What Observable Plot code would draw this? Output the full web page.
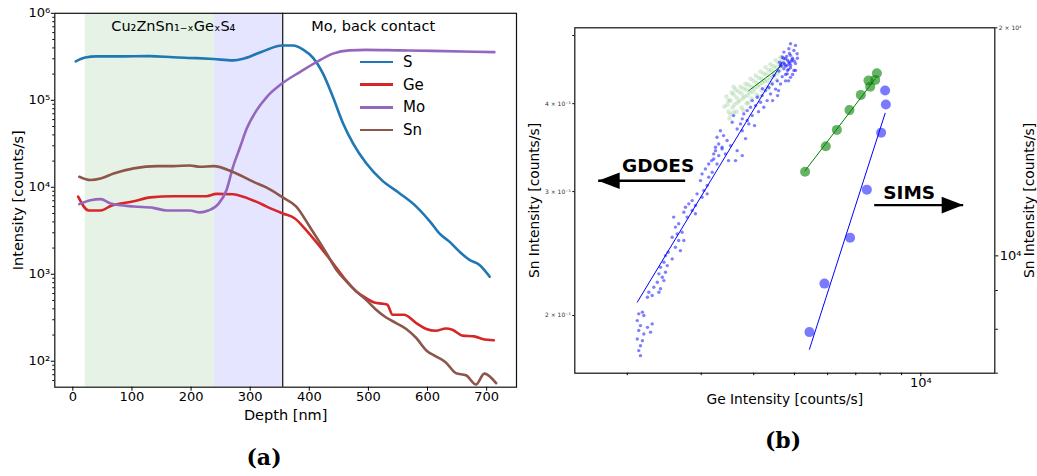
<!DOCTYPE html>
<html>
<head>
<meta charset="utf-8">
<script src="https://cdn.jsdelivr.net/npm/d3@7"></script>
<script src="https://cdn.jsdelivr.net/npm/@observablehq/plot@0.6"></script>
<style>
  html, body { margin: 0; background: #fff; }
  #figure { position: relative; width: 1037px; height: 476px; overflow: hidden; font-family: "DejaVu Sans", sans-serif; }
  .layer { position: absolute; top: 0; }
  .layer svg { display: block; }
  .caption { position: absolute; font-family: "DejaVu Serif", serif; font-weight: bold; font-size: 22px; line-height: 1; transform: translate(-50%, -50%); white-space: nowrap; }
  .legend { position: absolute; left: 360px; top: 50.6px; font-size: 15px; color: #000; }
  .legend .row { display: flex; align-items: center; height: 22.7px; }
  .legend .swatch { width: 33px; height: 2.6px; margin-right: 10px; }
</style>
</head>
<body>
<div id="figure">
  <div id="panelA" class="layer" style="left:0;width:520px"></div>
  <div id="legendA" class="legend"></div>
  <div class="caption" style="left:264px;top:457px">(a)</div>
  <div id="panelB1" class="layer" style="left:520px;width:517px"></div>
  <div id="panelB2" class="layer" style="left:520px;width:517px"></div>
  <div class="caption" style="left:783px;top:440px">(b)</div>
</div>
<script>
// ---------- (a) depth profiles ----------
const elements = ["S", "Ge", "Mo", "Sn"];
const elementColors = ["#1f77b4", "#d62728", "#9467bd", "#8c564b"];

const depthS = [5, 21, 40, 80, 130, 170, 210, 238, 271, 288, 310, 328, 353, 373, 390, 406, 423, 440, 457, 474, 496, 523, 552, 581, 606, 620, 637, 654, 671, 688, 705];
const intS = [2.8e5, 3.1e5, 3.2e5, 3.2e5, 3.22e5, 3.12e5, 3.05e5, 2.98e5, 2.88e5, 3.0e5, 3.4e5, 3.8e5, 4.27e5, 4.27e5, 3.8e5, 3.1e5, 2.04e5, 1.09e5, 5.45e4, 3.2e4, 1.9e4, 1.2e4, 8.6e3, 6.0e3, 3.9e3, 2.95e3, 2.37e3, 1.82e3, 1.46e3, 1.28e3, 940];

const depthGe = [9, 27, 47, 64, 103, 131, 170, 226, 243, 271, 288, 311, 328, 355, 375, 395, 418, 440, 457, 480, 496, 510, 525, 532, 541, 560, 581, 598, 614, 631, 642, 659, 679, 693, 712];
const intGe = [7.8e3, 5.4e3, 5.4e3, 6.1e3, 6.9e3, 7.65e3, 7.9e3, 7.9e3, 8.4e3, 8.3e3, 7.8e3, 6.8e3, 6.0e3, 5.0e3, 4.4e3, 3.2e3, 2.08e3, 1.34e3, 942, 631, 532, 473, 457, 446, 342, 342, 275, 235, 224, 238, 230, 197, 193, 180, 174];

const depthMo = [11, 30, 47, 64, 103, 136, 159, 198, 215, 229, 246, 260, 271, 283, 294, 311, 328, 355, 384, 412, 440, 468, 496, 552, 608, 713];
const intMo = [6.4e3, 7.1e3, 7.3e3, 6.5e3, 6.0e3, 5.8e3, 5.4e3, 5.4e3, 5.15e3, 5.4e3, 6.4e3, 9.3e3, 1.72e4, 2.9e4, 4.7e4, 7.7e4, 1.09e5, 1.58e5, 2.11e5, 2.75e5, 3.44e5, 3.75e5, 3.8e5, 3.75e5, 3.7e5, 3.58e5];

const depthSn = [11, 30, 47, 69, 103, 143, 170, 198, 215, 238, 271, 305, 328, 355, 378, 401, 429, 446, 463, 480, 496, 513, 530, 547, 564, 581, 598, 614, 631, 648, 665, 682, 696, 716];
const intSn = [1.32e4, 1.21e4, 1.26e4, 1.44e4, 1.65e4, 1.75e4, 1.75e4, 1.78e4, 1.72e4, 1.75e4, 1.5e4, 1.16e4, 9.9e3, 7.65e3, 6.0e3, 3.5e3, 1.75e3, 1.12e3, 824, 631, 508, 391, 318, 275, 235, 185, 133, 114, 97, 73, 69, 54, 72, 56];

// absorber / back-contact regions
const layerFrom = [21, 240];
const layerTo = [240, 355];
const layerFill = ["green", "blue"];
const backContactDepth = 355;
const layerNames = ["Cu₂ZnSn₁₋ₓGeₓS₄", "Mo, back contact"];
const layerNameDepth = [170, 508];
const layerNameIntensity = [7.06e5, 7.06e5];

const depthTicks = [0, 100, 200, 300, 400, 500, 600, 700];
const intensityTicks = [1e2, 1e3, 1e4, 1e5, 1e6];

// ---------- (b) Sn vs Ge correlation ----------
const gdoesBlueGe = [0.2038,0.2072,0.2027,0.2061,0.1994,0.2083,0.2038,0.1983,0.2005,0.2049,
  0.2027,0.1994,0.2072,0.2016,0.1972,0.2038,0.1994,0.2061,0.1961,0.2016,
  0.1983,0.2038,0.2005,0.1951,0.1930,0.1972,0.1919,0.1898,0.1940,0.1877,
  0.1908,0.1856,0.1887,0.1826,0.1846,0.1796,0.1816,0.1786,0.1866,0.1767,
  0.1747,0.1796,0.1738,0.1767,0.1728,0.1776,0.1709,0.1689,0.1681,0.1738,
  0.1617,0.1634,0.1599,0.1653,0.1608,0.1591,0.1626,0.1672,0.1582,0.1644,
  0.1709,0.1738,0.1591,0.1608,0.1582,0.1556,0.1599,0.1539,0.1574,0.1522,
  0.1556,0.1514,0.1548,0.1531,0.1497,0.1548,0.1522,0.1473,0.1457,0.1489,
  0.1441,0.1473,0.1433,0.1489,0.1449,0.1386,0.1409,0.1394,0.1425,0.1402,
  0.1379,0.1433,0.1409,0.1394,0.1417,0.1361,0.1349,0.1379,0.1342,0.1357,
  0.1327,0.1349,0.1320,0.1335,0.1342,0.1313,0.1298,0.1327,0.1277,0.1291,
  0.1271,0.1320,0.1250,0.1235,0.1256,0.1229,0.1291,0.1242,0.1271,0.1235,
  0.1284,0.1256,0.1229,0.1250,0.1242,0.1235,0.1242,0.1626,
  0.2018,0.2031,0.2005,0.2045,0.1998,0.2025,0.2052,0.2012,0.2038,0.1992,
  0.2018,0.2065,0.1979,0.2031,0.2005,0.2072,0.1966,0.2085,0.2052,0.2025,
  0.1953,0.1921,0.1834,0.1858,0.1959,0.1810,0.1757,0.1700,0.1661,0.1571];
const gdoesBlueSn = [0.4867,0.484,0.4787,0.476,0.4735,0.471,0.4685,0.466,0.4635,0.462,
  0.4585,0.457,0.456,0.4535,0.4535,0.450,0.4485,0.446,0.445,0.441,
  0.437,0.436,0.431,0.431,0.4385,0.4265,0.4265,0.4217,0.4195,0.4175,
  0.413,0.4107,0.404,0.4085,0.4018,0.404,0.3975,0.3953,0.3953,0.391,
  0.3868,0.3847,0.3806,0.3785,0.3744,0.3744,0.3682,0.3847,0.3764,0.366,
  0.366,0.3603,0.3583,0.3545,0.3506,0.3468,0.345,0.3487,0.3394,0.3394,
  0.343,0.3375,0.343,0.3375,0.3338,0.3284,0.3284,0.3231,0.3196,0.3179,
  0.3145,0.311,0.306,0.301,0.2978,0.2978,0.2945,0.2913,0.2882,0.2866,
  0.285,0.282,0.2805,0.279,0.276,0.276,0.2701,0.2671,0.2626,0.2612,
  0.2584,0.2556,0.2556,0.2501,0.2473,0.246,0.2433,0.2407,0.2381,0.2355,
  0.2342,0.2304,0.2292,0.2267,0.2242,0.223,0.2194,0.2183,0.2158,0.2135,
  0.2123,0.2158,0.2022,0.2011,0.2,0.1967,0.1946,0.1935,0.1924,0.1904,
  0.1894,0.1883,0.1852,0.1842,0.1812,0.1783,0.1754,0.3468,
  0.461,0.4565,0.452,0.4595,0.455,0.4475,0.464,0.467,0.4535,0.464,
  0.446,0.4595,0.452,0.4715,0.440,0.446,0.458,0.464,0.440,0.431,
  0.4107,0.404,0.3897,0.4202,0.4175,0.3723,0.3568,0.332,0.332,0.332];

const gdoesGreenGe = [0.1650,0.1655,0.1661,0.1678,0.1672,0.1683,0.1672,0.1700,0.1706,0.1694,
  0.1706,0.1728,0.1734,0.1722,0.1734,0.1757,0.1763,0.1751,0.1763,0.1786,
  0.1792,0.1780,0.1792,0.1816,0.1822,0.1810,0.1822,0.1846,0.1852,0.1840,
  0.1852,0.1877,0.1883,0.1871,0.1883,0.1908,0.1914,0.1902,0.1914,0.1940,
  0.1946,0.1934,0.1946,0.1972,0.1979,0.1966,
  0.1661,0.1689,0.1689,0.1717,0.1711,0.1745,0.1740,0.1745,0.1774,0.1769,
  0.1804,0.1798,0.1834,0.1828,0.1865,0.1858,0.1896,0.1889,0.1927,0.1921,
  0.1959,0.1953,0.1985,0.1666,0.1639,0.1689,0.1774,0.1834,0.1896];
const gdoesGreenSn = [0.4094,0.3988,0.3897,0.4148,0.404,0.3949,0.3860,0.4188,0.4080,0.3988,
  0.3897,0.4227,0.4134,0.404,0.3949,0.4268,0.4188,0.4094,0.4001,0.434,
  0.4227,0.4148,0.4067,0.4385,0.4282,0.4202,0.4121,0.4445,0.434,0.4254,
  0.4175,0.4505,0.440,0.431,0.4227,0.455,0.446,0.4355,0.4282,0.461,
  0.4505,0.4415,0.4325,0.4655,0.4565,0.446,
  0.404,0.4121,0.3885,0.4161,0.4014,0.4202,0.4067,0.391,0.4254,0.4107,
  0.431,0.4161,0.4355,0.4227,0.4415,0.4282,0.446,0.431,0.452,0.437,
  0.4565,0.4415,0.461,0.381,0.3962,0.4227,0.4014,0.4094,0.4202];

const gdoesBlueFitGe = [0.1229, 0.1983];
const gdoesBlueFitSn = [0.2089, 0.4581];
const gdoesGreenFitGe = [0.1776, 0.1969];
const gdoesGreenFitSn = [0.4175, 0.4509];

const simsGreenGe = [5302, 5940, 6310, 6761, 7197, 7505, 7576, 7786, 7859];
const simsGreenSn = [12915, 13953, 14665, 15573, 16310, 17035, 16725, 17072, 17418];
const simsBlueGe = [8222, 8254, 8044, 7438, 6785, 5895, 5429];
const simsBlueSn = [16530, 15840, 14543, 12229, 10564, 9191, 7931];
const simsGreenFitGe = [5302, 7786];
const simsGreenFitSn = [12953, 17125];
const simsBlueFitGe = [5429, 8222];
const simsBlueFitSn = [7527, 15424];

// method labels with arrows pointing at their axis
const methodNames = ["GDOES", "SIMS"];
const methodNameGe = [2368, 9379];
const methodNameSn = [13152, 12114];
const arrowTailGe = [2747, 7743];
const arrowTipGe = [1705, 12612];
const arrowSn = [12567, 11668];

// ---------- helpers ----------
const SUP = {"-": "⁻", "0": "⁰", "1": "¹", "2": "²", "3": "³", "4": "⁴", "5": "⁵", "6": "⁶", "7": "⁷", "8": "⁸", "9": "⁹"};
const sup = s => String(s).split("").map(c => SUP[c]).join("");
const pow10 = d => "10" + sup(Math.round(Math.log10(d)));
const blank = () => "";
const baseStyle = {fontFamily: "DejaVu Sans", fontSize: "13px", color: "black", background: "transparent", maxWidth: "none", overflow: "visible"};
const pairs = (xs, ys) => xs.map((x, i) => ({x, y: ys[i]}));

// ---------- panel (a) ----------
const profile = elements.flatMap((el, k) => {
  const depths = [depthS, depthGe, depthMo, depthSn][k];
  const vals = [intS, intGe, intMo, intSn][k];
  return depths.map((d, i) => ({element: el, depth: d, value: vals[i]}));
});
const minorIntensity = [];
for (let e = 1; e <= 5; e++) for (let m = 2; m <= 9; m++) {
  const v = m * 10 ** e;
  if (v > 50.3 && v < 1e6) minorIntensity.push(v);
}
const layers = layerFrom.map((f, i) => ({from: f, to: layerTo[i], fill: layerFill[i]}));
const layerLabels = layerNames.map((t, i) => ({text: t, depth: layerNameDepth[i], value: layerNameIntensity[i]}));

const plotA = Plot.plot({
  width: 520, height: 425,
  marginLeft: 54.3, marginRight: 4, marginTop: 12.8, marginBottom: 38.3,
  style: baseStyle,
  x: {domain: [-30.5, 750.5]},
  y: {type: "log", domain: [50.3, 1e6]},
  color: {domain: elements, range: elementColors},
  marks: [
    ...layers.map(l => Plot.rect([l], {x1: "from", x2: "to", fill: l.fill, fillOpacity: 0.1})),
    Plot.ruleX([backContactDepth], {stroke: "#222", strokeWidth: 1.3}),
    Plot.line(profile, {x: "depth", y: "value", stroke: "element", strokeWidth: 2.6, curve: "monotone-x"}),
    Plot.text(layerLabels, {x: "depth", y: "value", text: "text", fontSize: 14.5}),
    Plot.frame({stroke: "#111", strokeWidth: 1.2}),
    Plot.axisX(depthTicks, {tickSize: 4, tickPadding: 1, label: null, fontSize: 13}),
    Plot.axisY(intensityTicks, {tickSize: 3.5, tickPadding: 1, tickFormat: pow10, label: null, fontSize: 13}),
    Plot.axisY(minorIntensity, {tickSize: 2, tickFormat: blank, label: null}),
    Plot.text(["Depth [nm]"], {frameAnchor: "bottom", dy: 33, fontSize: 14.5, textAnchor: "middle"}),
    Plot.text(["Intensity [counts/s]"], {frameAnchor: "left", dx: -36, rotate: -90, fontSize: 14.5, textAnchor: "middle", lineAnchor: "middle"})
  ]
});
document.getElementById("panelA").append(plotA);

const legend = document.getElementById("legendA");
elements.forEach((el, i) => {
  const row = document.createElement("div");
  row.className = "row";
  row.innerHTML = `<span class="swatch" style="background:${elementColors[i]}"></span><span>${el}</span>`;
  legend.append(row);
});

// ---------- panel (b), GDOES layer (left axis) ----------
const gdoesGreen = pairs(gdoesGreenGe, gdoesGreenSn);
const gdoesBlue = pairs(gdoesBlueGe, gdoesBlueSn);
const plotB1 = Plot.plot({
  width: 517, height: 415,
  marginLeft: 54.3, marginRight: 42.7, marginTop: 27.3, marginBottom: 42.3,
  style: baseStyle,
  x: {type: "log", domain: [0.1, 0.4], axis: null},
  y: {type: "log", domain: [0.1656, 0.5127]},
  marks: [
    Plot.dot(gdoesGreen, {x: "x", y: "y", r: 2.3, fill: "green", fillOpacity: 0.15}),
    Plot.dot(gdoesBlue, {x: "x", y: "y", r: 1.7, fill: "blue", fillOpacity: 0.5}),
    Plot.line(pairs(gdoesBlueFitGe, gdoesBlueFitSn), {x: "x", y: "y", stroke: "blue", strokeWidth: 1}),
    Plot.line(pairs(gdoesGreenFitGe, gdoesGreenFitSn), {x: "x", y: "y", stroke: "green", strokeWidth: 1}),
    Plot.axisY([0.2, 0.3, 0.4], {tickSize: 2, tickPadding: 2, fontSize: 6, fill: "#333", label: null,
      tickFormat: d => `${Math.round(d * 10)} × 10⁻¹`}),
    Plot.axisY([0.5], {tickSize: 2, tickFormat: blank, label: null}),
    Plot.text(["Sn Intensity [counts/s]"], {frameAnchor: "left", dx: -40, rotate: -90, fontSize: 13.8, textAnchor: "middle", lineAnchor: "middle"})
  ]
});
document.getElementById("panelB1").append(plotB1);

// ---------- panel (b), SIMS layer (bottom and right axes) ----------
const headLeft = {draw(ctx) { ctx.moveTo(0, 0); ctx.lineTo(21.5, -8.3); ctx.lineTo(21.5, 8.3); ctx.closePath(); }};
const headRight = {draw(ctx) { ctx.moveTo(0, 0); ctx.lineTo(-21.5, -8.3); ctx.lineTo(-21.5, 8.3); ctx.closePath(); }};
const methods = methodNames.map((t, i) => ({
  text: t, x: methodNameGe[i], y: methodNameSn[i],
  tail: arrowTailGe[i], tip: arrowTipGe[i], ay: arrowSn[i]
}));
const minorGe = [2000, 3000, 4000, 5000, 6000, 7000, 8000, 9000];

const plotB2 = Plot.plot({
  width: 517, height: 415,
  marginLeft: 54.3, marginRight: 42.7, marginTop: 27.3, marginBottom: 42.3,
  style: baseStyle,
  x: {type: "log", domain: [1500, 15000]},
  y: {type: "log", domain: [7000, 20000]},
  marks: [
    Plot.dot(pairs(simsGreenGe, simsGreenSn), {x: "x", y: "y", r: 5, fill: "green", fillOpacity: 0.6}),
    Plot.line(pairs(simsGreenFitGe, simsGreenFitSn), {x: "x", y: "y", stroke: "green", strokeWidth: 1}),
    Plot.dot(pairs(simsBlueGe, simsBlueSn), {x: "x", y: "y", r: 5, fill: "blue", fillOpacity: 0.52}),
    Plot.line(pairs(simsBlueFitGe, simsBlueFitSn), {x: "x", y: "y", stroke: "blue", strokeWidth: 1}),
    Plot.link(methods, {x1: "tail", x2: "tip", y1: "ay", y2: "ay", stroke: "black", strokeWidth: 2.4}),
    Plot.dot(methods.slice(0, 1), {x: "tip", y: "ay", symbol: headLeft, fill: "black"}),
    Plot.dot(methods.slice(1, 2), {x: "tip", y: "ay", symbol: headRight, fill: "black"}),
    Plot.text(methods, {x: "x", y: "y", text: "text", fontSize: 18.5, fontWeight: "bold"}),
    Plot.frame({stroke: "#111", strokeWidth: 1.2}),
    Plot.axisX([1e4], {tickSize: 3.5, tickPadding: 1, tickFormat: pow10, label: null, fontSize: 13}),
    Plot.axisX(minorGe, {tickSize: 2.5, tickFormat: blank, label: null}),
    Plot.axisY([1e4], {anchor: "right", tickSize: 3, tickPadding: 2, tickFormat: pow10, label: null, fontSize: 13}),
    Plot.axisY([2e4], {anchor: "right", tickSize: 2, tickPadding: 2, fontSize: 6, fill: "#333", label: null, tickFormat: () => "2 × 10⁴"}),
    Plot.axisY([7000, 8000, 9000], {anchor: "right", tickSize: 2.5, tickFormat: blank, label: null}),
    Plot.text(["Ge Intensity [counts/s]"], {frameAnchor: "bottom", dy: 31, fontSize: 13.8, textAnchor: "middle"}),
    Plot.text(["Sn Intensity [counts/s]"], {frameAnchor: "right", dx: 35, rotate: -90, fontSize: 13.8, textAnchor: "middle", lineAnchor: "middle"})
  ]
});
document.getElementById("panelB2").append(plotB2);
</script>
</body>
</html>
